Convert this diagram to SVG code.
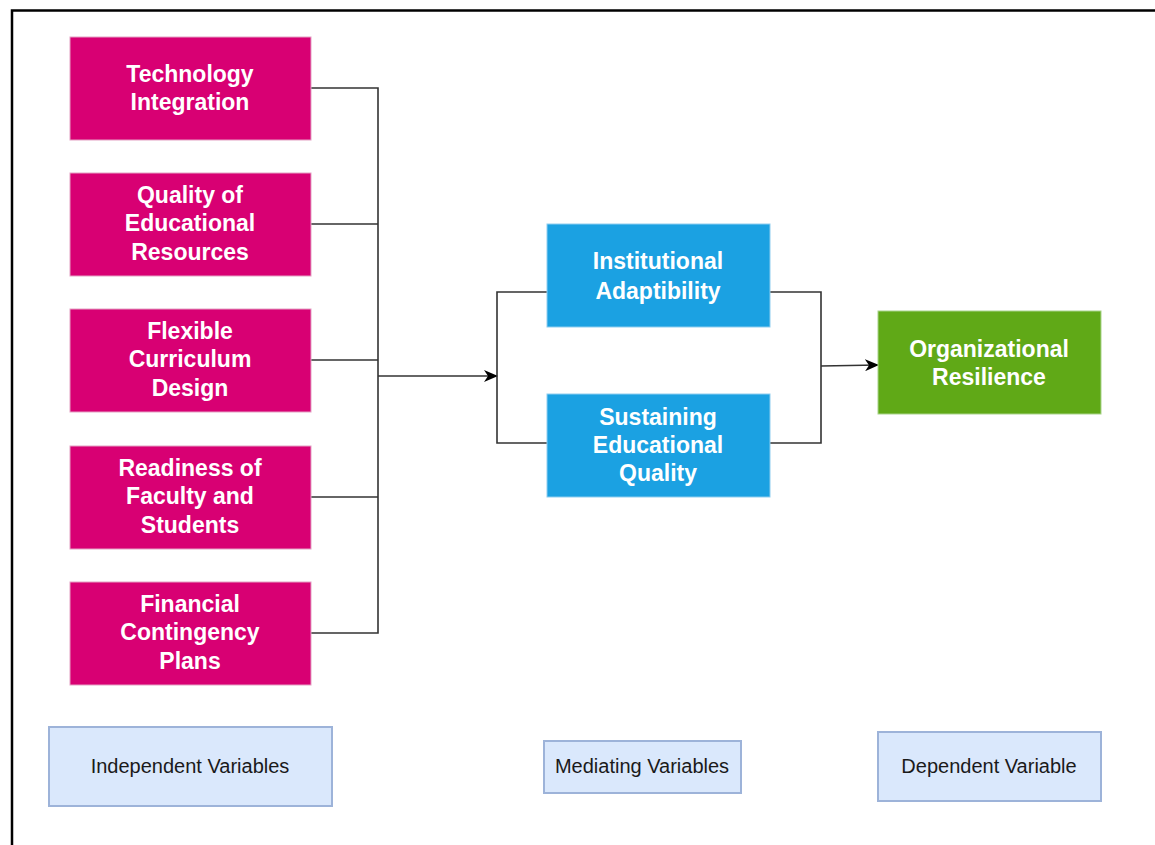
<svg xmlns="http://www.w3.org/2000/svg" width="1155" height="845" viewBox="0 0 1155 845">
<style>
.iv{fill:#d80073;stroke:#e4a1c4;stroke-width:1}
.mv{fill:#1ba1e2;stroke:#8fcdef;stroke-width:1}
.dv{fill:#60a917;stroke:#a8d38a;stroke-width:1}
.lg{fill:#dae8fc;stroke:#9db3d9;stroke-width:2}
.t{font-family:"Liberation Sans",Arial,sans-serif;font-weight:bold;font-size:23px;fill:#ffffff;text-anchor:middle}
.lt{font-family:"Liberation Sans",Arial,sans-serif;font-size:20px;fill:#1a1a1a;text-anchor:middle}
.c{fill:none;stroke:#333333;stroke-width:1.6}
</style>
<defs>
<marker id="arr" markerWidth="14" markerHeight="12" refX="13" refY="6" orient="auto" markerUnits="userSpaceOnUse">
<path d="M0,0 L14,6 L0,12 L4,6 Z" fill="#000000"/>
</marker>
</defs>
<rect width="1155" height="845" fill="#ffffff"/>
<path d="M12,845 L12,10.5 L1155,10.5" fill="none" stroke="#000000" stroke-width="2.5"/>
<g id="connectors">
<path class="c" d="M311,88 H378 V633 H311"/>
<path class="c" d="M311,224 H378"/>
<path class="c" d="M311,360 H378"/>
<path class="c" d="M311,497 H378"/>
<path class="c" d="M378,376 H497" marker-end="url(#arr)"/>
<path class="c" d="M547,292 H497 V443 H547"/>
<path class="c" d="M770,292 H821 V443 H770"/>
<path class="c" d="M821,366 L878,365" marker-end="url(#arr)"/>
</g>
<g id="n1"><rect class="iv" x="70" y="37" width="241" height="103"/><text class="t" x="190" y="82">Technology</text><text class="t" x="190" y="110">Integration</text></g>
<g id="n2"><rect class="iv" x="70" y="173" width="241" height="103"/><text class="t" x="190" y="203">Quality of</text><text class="t" x="190" y="231">Educational</text><text class="t" x="190" y="260">Resources</text></g>
<g id="n3"><rect class="iv" x="70" y="309" width="241" height="103"/><text class="t" x="190" y="339">Flexible</text><text class="t" x="190" y="367">Curriculum</text><text class="t" x="190" y="396">Design</text></g>
<g id="n4"><rect class="iv" x="70" y="446" width="241" height="103"/><text class="t" x="190" y="476">Readiness of</text><text class="t" x="190" y="504">Faculty and</text><text class="t" x="190" y="533">Students</text></g>
<g id="n5"><rect class="iv" x="70" y="582" width="241" height="103"/><text class="t" x="190" y="612">Financial</text><text class="t" x="190" y="640">Contingency</text><text class="t" x="190" y="669">Plans</text></g>
<g id="m1"><rect class="mv" x="547" y="224" width="223" height="103"/><text class="t" x="658" y="269">Institutional</text><text class="t" x="658" y="299">Adaptibility</text></g>
<g id="m2"><rect class="mv" x="547" y="394" width="223" height="103"/><text class="t" x="658" y="425">Sustaining</text><text class="t" x="658" y="453">Educational</text><text class="t" x="658" y="481">Quality</text></g>
<g id="d1"><rect class="dv" x="878" y="311" width="223" height="103"/><text class="t" x="989" y="357">Organizational</text><text class="t" x="989" y="385">Resilience</text></g>
<g id="l1"><rect class="lg" x="49" y="727" width="283" height="79"/><text class="lt" x="190" y="773">Independent Variables</text></g>
<g id="l2"><rect class="lg" x="544" y="741" width="197" height="52"/><text class="lt" x="642" y="773">Mediating Variables</text></g>
<g id="l3"><rect class="lg" x="878" y="732" width="223" height="69"/><text class="lt" x="989" y="773">Dependent Variable</text></g>
</svg>
